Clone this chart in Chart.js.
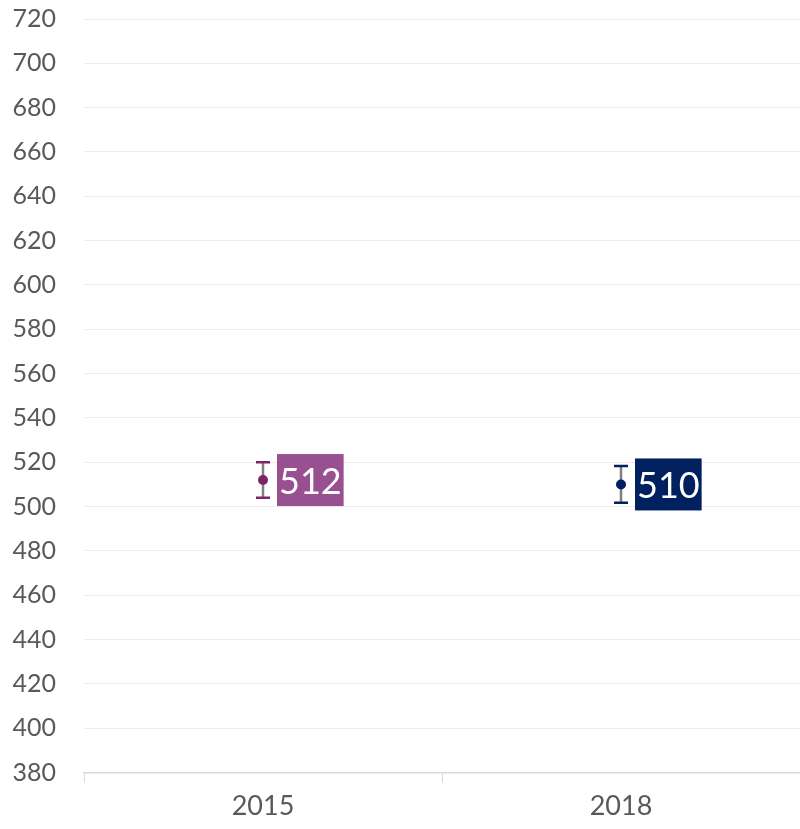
<!DOCTYPE html>
<html lang="en">
<head>
    <meta charset="UTF-8">
    <title>Score 2015 vs 2018</title>
    <script src="https://cdn.jsdelivr.net/npm/chart.js"></script>
    <style>
        html, body { margin: 0; padding: 0; background: #fff; }
        #wrap { width: 800px; height: 829px; }
    </style>
</head>
<body>
    <div id="wrap"><canvas id="chart"></canvas></div>

    <script>
        // data
        const years = ['2015', '2018'];
        const scores = [512, 510];
        const errors = [8, 8.3];
        const pointColors = ['#7b2468', '#002060'];
        const boxColors = ['#985091', '#002060'];

        // error bars + value boxes drawn through the scales
        const errorBarPlugin = {
            id: 'errorBars',
            afterDatasetsDraw(chart) {
                const ctx = chart.ctx;
                const xs = chart.scales.x, ys = chart.scales.y;
                scores.forEach((v, i) => {
                    const x = xs.getPixelForValue(i);
                    const yTop = ys.getPixelForValue(v + errors[i]);
                    const yBot = ys.getPixelForValue(v - errors[i]);
                    const y = ys.getPixelForValue(v);
                    ctx.save();
                    ctx.lineWidth = 2.5;
                    ctx.strokeStyle = '#7f7f7f';
                    ctx.beginPath();
                    ctx.moveTo(x, yTop);
                    ctx.lineTo(x, yBot);
                    ctx.stroke();
                    ctx.strokeStyle = pointColors[i];
                    ctx.beginPath();
                    ctx.moveTo(x - 7, yTop); ctx.lineTo(x + 7, yTop);
                    ctx.moveTo(x - 7, yBot); ctx.lineTo(x + 7, yBot);
                    ctx.stroke();
                    // point on top of the stem
                    ctx.fillStyle = pointColors[i];
                    ctx.beginPath();
                    ctx.arc(x, y, 5, 0, Math.PI * 2);
                    ctx.fill();
                    // value box
                    ctx.font = '36px Lato, "Open Sans", sans-serif';
                    const txt = String(scores[i]);
                    const w = ctx.measureText(txt).width + 4;
                    const h = 52;
                    const bx = x + 14;
                    ctx.fillStyle = boxColors[i];
                    ctx.fillRect(bx, y - h / 2, w, h);
                    ctx.fillStyle = '#ffffff';
                    ctx.textBaseline = 'middle';
                    ctx.textAlign = 'left';
                    ctx.fillText(txt, bx + 2, y + 2);
                    ctx.restore();
                });
            }
        };

        new Chart(document.getElementById('chart'), {
            type: 'line',
            data: {
                labels: years,
                datasets: [{
                    data: scores,
                    showLine: false,
                    pointRadius: 0,
                    pointHoverRadius: 0
                }]
            },
            options: {
                responsive: true,
                maintainAspectRatio: false,
                animation: false,
                layout: { padding: { top: 0, right: 0, left: 2, bottom: 0 } },
                plugins: {
                    legend: { display: false },
                    tooltip: { enabled: false }
                },
                scales: {
                    x: {
                        offset: true,
                        grid: {
                            offset: true,
                            drawOnChartArea: false,
                            drawTicks: true,
                            tickLength: 10,
                            color: '#d9d9d9'
                        },
                        border: { color: '#d9d9d9', width: 1.5 },
                        ticks: {
                            color: '#595959',
                            font: { size: 27, family: 'Lato, "Open Sans", sans-serif' },
                            padding: 7
                        }
                    },
                    y: {
                        min: 380,
                        max: 720,
                        afterFit(scale) {
                            scale.width = 82;
                            scale.paddingTop = 19;
                        },
                        grid: { color: '#ececec', drawTicks: false },
                        border: { display: false },
                        ticks: {
                            stepSize: 20,
                            color: '#595959',
                            font: { size: 25, family: 'Lato, "Open Sans", sans-serif' },
                            padding: 28
                        }
                    }
                }
            },
            plugins: [errorBarPlugin]
        });
    </script>
</body>
</html>
